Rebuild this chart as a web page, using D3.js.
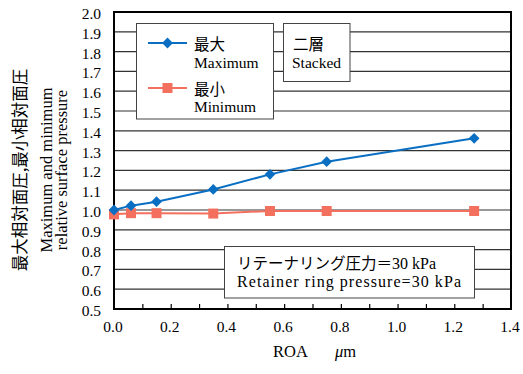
<!DOCTYPE html>
<html>
<head>
<meta charset="utf-8">
<script src="https://cdn.jsdelivr.net/npm/d3@7"></script>
<style>
  body { margin: 0; background: #fff; }
  svg text { font-family: "Liberation Serif", "Times New Roman", "Noto Sans CJK JP", serif; fill: #000; }
  svg text.cjk, svg tspan.cjk { font-family: "Noto Sans CJK JP", sans-serif; }
</style>
</head>
<body>
<div id="chart"></div>
<script>
// data
const roa = [0.0, 0.06, 0.15, 0.35, 0.55, 0.75, 1.27];
const maxPressure = [1.0, 1.022, 1.042, 1.104, 1.18, 1.244, 1.362];
const minPressure = [0.978, 0.984, 0.984, 0.982, 0.995, 0.995, 0.995];
const yTicks = [0.5, 0.6, 0.7, 0.8, 0.9, 1.0, 1.1, 1.2, 1.3, 1.4, 1.5, 1.6, 1.7, 1.8, 1.9, 2.0];
const xLabelTicks = [0.0, 0.2, 0.4, 0.6, 0.8, 1.0, 1.2, 1.4];
const xMinorTicks = [0.1, 0.2, 0.3, 0.4, 0.5, 0.6, 0.7, 0.8, 0.9, 1.0, 1.1, 1.2, 1.3];

const blue = '#0a6fc2';
const red = '#f3705f';

// set the dimensions of the graph
const W = 523, H = 374;
const plot = { left: 114, right: 511, top: 12, bottom: 309 };

const svg = d3.select('#chart')
  .append('svg')
  .attr('width', W)
  .attr('height', H);

const x = d3.scaleLinear().domain([0, 1.4]).range([plot.left, plot.right]);
const y = d3.scaleLinear().domain([0.5, 2.0]).range([plot.bottom, plot.top]);

// gridlines
svg.append('g')
  .selectAll('line')
  .data(yTicks)
  .enter()
  .append('line')
  .attr('x1', plot.left)
  .attr('x2', plot.right)
  .attr('y1', d => y(d))
  .attr('y2', d => y(d))
  .attr('stroke', '#333')
  .attr('stroke-width', 1.2);

// Y axis labels
const yAxis = svg.append('g')
  .attr('transform', 'translate(' + (plot.left - 13) + ',0)')
  .call(d3.axisLeft(y).tickValues(yTicks).tickSize(0).tickFormat(d3.format('.1f')))
  .attr('font-family', null);
yAxis.select('.domain').remove();
yAxis.selectAll('text')
  .attr('x', 0)
  .attr('dy', '0.42em')
  .style('font-size', '15.5px');

// X axis minor ticks (inside)
const xTickAxis = svg.append('g')
  .attr('transform', 'translate(0,' + plot.bottom + ')')
  .call(d3.axisBottom(x).tickValues(xMinorTicks).tickSize(-5).tickFormat(''));
xTickAxis.select('.domain').remove();
xTickAxis.selectAll('line').attr('stroke', '#000').attr('stroke-width', 1.2);

// X axis labels
const xAxis = svg.append('g')
  .attr('transform', 'translate(0,' + plot.bottom + ')')
  .call(d3.axisBottom(x).tickValues(xLabelTicks).tickSize(0).tickFormat(d3.format('.1f')))
  .attr('font-family', null);
xAxis.select('.domain').remove();
xAxis.selectAll('text')
  .attr('x', -1.5)
  .attr('y', 22.5)
  .attr('dy', 0)
  .style('font-size', '15.5px');

// plot border
svg.append('rect')
  .attr('x', plot.left)
  .attr('y', plot.top)
  .attr('width', plot.right - plot.left)
  .attr('height', plot.bottom - plot.top)
  .attr('fill', 'none')
  .attr('stroke', '#000')
  .attr('stroke-width', 2);

// series
const maxData = roa.map((r, i) => ({ x: r, y: maxPressure[i] }));
const minData = roa.map((r, i) => ({ x: r, y: minPressure[i] }));
const line = d3.line().x(d => x(d.x)).y(d => y(d.y));

svg.append('path')
  .datum(minData)
  .attr('d', line)
  .attr('fill', 'none')
  .attr('stroke', red)
  .attr('stroke-width', 2);

svg.append('path')
  .datum(maxData)
  .attr('d', line)
  .attr('fill', 'none')
  .attr('stroke', blue)
  .attr('stroke-width', 2);

const diamond = d3.symbol().type(d3.symbolDiamond2).size(74);
const square = d3.symbol().type(d3.symbolSquare).size(100);

svg.selectAll('.minpt')
  .data(minData)
  .enter()
  .append('path')
  .attr('class', 'minpt')
  .attr('d', square)
  .attr('transform', d => 'translate(' + x(d.x) + ',' + y(d.y) + ')')
  .attr('fill', red);

svg.selectAll('.maxpt')
  .data(maxData)
  .enter()
  .append('path')
  .attr('class', 'maxpt')
  .attr('d', diamond)
  .attr('transform', d => 'translate(' + x(d.x) + ',' + y(d.y) + ')')
  .attr('fill', blue);

// legend box
const legend = svg.append('g');
legend.append('rect')
  .attr('x', 136.5).attr('y', 23.5).attr('width', 137).attr('height', 95.5)
  .attr('fill', '#fff').attr('stroke', '#444').attr('stroke-width', 1);
legend.append('line')
  .attr('x1', 148).attr('x2', 187).attr('y1', 43).attr('y2', 43)
  .attr('stroke', blue).attr('stroke-width', 2);
legend.append('path')
  .attr('d', diamond).attr('transform', 'translate(167.5,43)').attr('fill', blue);
legend.append('line')
  .attr('x1', 148).attr('x2', 187).attr('y1', 88).attr('y2', 88)
  .attr('stroke', red).attr('stroke-width', 2);
legend.append('path')
  .attr('d', square).attr('transform', 'translate(167.5,88)').attr('fill', red);
legend.append('text').attr('class', 'cjk').attr('x', 194).attr('y', 50)
  .style('font-size', '15.5px').text('最大');
legend.append('text').attr('x', 194).attr('y', 67.5)
  .style('font-size', '15.5px').text('Maximum');
legend.append('text').attr('class', 'cjk').attr('x', 194).attr('y', 94.5)
  .style('font-size', '15.5px').text('最小');
legend.append('text').attr('x', 194).attr('y', 111.5)
  .style('font-size', '15.5px').text('Minimum');

// stacked box
svg.append('rect')
  .attr('x', 283.5).attr('y', 23.5).attr('width', 66.5).attr('height', 58)
  .attr('fill', '#fff').attr('stroke', '#444').attr('stroke-width', 1);
svg.append('text').attr('class', 'cjk').attr('x', 293).attr('y', 50)
  .style('font-size', '15.5px').text('二層');
svg.append('text').attr('x', 292).attr('y', 68)
  .style('font-size', '15.5px').text('Stacked');

// retainer ring annotation
svg.append('rect')
  .attr('x', 224.5).attr('y', 246.5).attr('width', 250).attr('height', 51.5)
  .attr('fill', '#fff').attr('stroke', '#444').attr('stroke-width', 1);
const note1 = svg.append('text').attr('x', 237).attr('y', 269).style('font-size', '16px');
note1.append('tspan').attr('class', 'cjk').style('font-size', '15.5px').text('リテーナリング圧力＝');
note1.append('tspan').text('30 kPa');
svg.append('text').attr('x', 237).attr('y', 287)
  .style('font-size', '16px').attr('textLength', 224).attr('lengthAdjust', 'spacing')
  .text('Retainer ring pressure=30 kPa');

// Y axis title
const yTitle = svg.append('g').attr('transform', 'translate(0,170) rotate(-90)');
yTitle.append('text').attr('class', 'cjk').attr('x', 0).attr('y', 25.5)
  .attr('text-anchor', 'middle').style('font-size', '16.5px').text('最大相対面圧,最小相対面圧');
yTitle.append('text').attr('x', 0).attr('y', 52)
  .attr('text-anchor', 'middle').style('font-size', '16.5px').text('Maximum and minimum');
yTitle.append('text').attr('x', 0).attr('y', 67)
  .attr('text-anchor', 'middle').style('font-size', '16.5px').text('relative surface pressure');

// X axis title
const xTitle = svg.append('text').attr('x', 273).attr('y', 356.5).style('font-size', '16.5px');
xTitle.append('tspan').text('ROA');
xTitle.append('tspan').attr('x', 335).style('font-style', 'italic').text('μ');
xTitle.append('tspan').text('m');
</script>
</body>
</html>
